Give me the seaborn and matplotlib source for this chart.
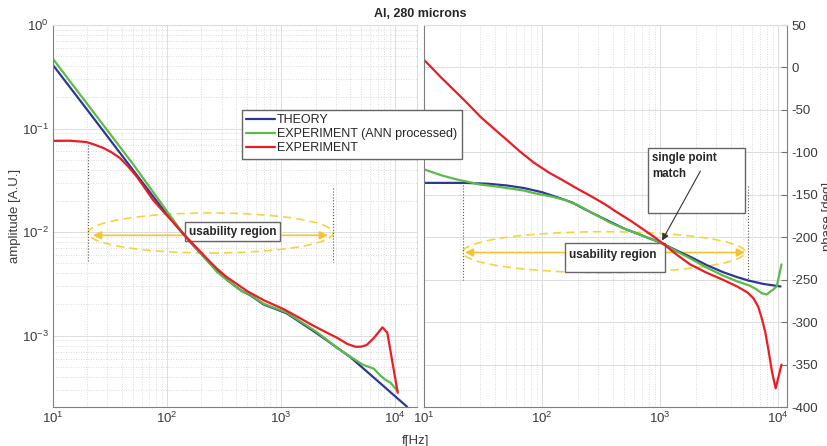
import numpy as np
import matplotlib
matplotlib.use("Agg")
import matplotlib.pyplot as plt
import seaborn as sns
from matplotlib.patches import Ellipse, Rectangle
from matplotlib.lines import Line2D
from matplotlib.ticker import LogLocator, NullFormatter, MultipleLocator

# Amplitude curves (left panel), frequency in Hz
theory_amp_f = [10, 20, 50, 100, 138, 170, 200, 240, 275, 330, 380, 450, 537, 700, 1115,
                2055, 4030, 7940, 10000, 12700]
theory_amp = [0.41, 0.151, 0.040, 0.0147, 0.0096, 0.0074, 0.0061, 0.0049, 0.0042, 0.0035,
              0.0031, 0.0027, 0.00245, 0.0020, 0.00164, 0.00105, 0.00062, 0.000323,
              0.000258, 0.000205]

ann_amp_f = [10, 20, 50, 100, 138, 170, 200, 240, 275, 330, 380, 450, 537, 700, 1115, 2055,
             3100, 4070, 5250, 6460, 7400, 8300, 9100, 10500]
ann_amp = [0.47, 0.172, 0.0457, 0.0158, 0.0097, 0.0075, 0.0061, 0.0049, 0.0041, 0.0035,
           0.0031, 0.0027, 0.00248, 0.00203, 0.00167, 0.00108, 0.00076, 0.00062, 0.00052,
           0.00048, 0.00041, 0.00037, 0.00035, 0.00029]

exp_amp_f = [10, 14, 19.6, 23, 27.5, 32.5, 38.5, 45.5, 54, 64, 75, 88, 100, 112, 138, 170,
             200, 240, 275, 330, 400, 500, 700, 1050, 1500, 1900, 2500, 3100, 3800, 4470,
             5000, 5600, 6500, 7700, 8500, 10500]
exp_amp = [0.076, 0.0762, 0.0741, 0.0700, 0.0650, 0.0590, 0.0520, 0.0430, 0.0345, 0.0265,
           0.0205, 0.0168, 0.0144, 0.0126, 0.0097, 0.0076, 0.0063, 0.0051, 0.0044, 0.0037,
           0.0032, 0.0027, 0.0022, 0.0018, 0.00145, 0.00125, 0.00107, 0.00095, 0.00083,
           0.00078, 0.00078, 0.00081, 0.00095, 0.0012, 0.00107, 0.00028]

# Phase curves (right panel), degrees
theory_ph_f = [10, 22, 35, 50, 70, 100, 135, 180, 230, 300, 380, 500, 650, 800, 1000, 1400,
               1800, 2500, 3400, 4500, 5600, 7500, 10500]
theory_ph = [-136, -136, -137, -139, -142, -147, -153, -159, -167, -175, -182, -190, -196,
             -201, -206, -216, -223, -233, -241, -247, -251, -255, -258]

ann_ph_f = [10, 14, 19, 25, 30, 40, 50, 70, 85, 120, 155, 200, 263, 380, 500, 650, 800, 1000,
            1400, 1800, 2500, 3400, 4500, 5750, 6500, 7300, 8020, 8600, 9120, 9770, 10700]
ann_ph = [-120, -127, -132, -135.5, -138, -140, -142, -145, -148, -152, -156, -162, -171,
          -183, -190, -196, -201, -206, -217, -225, -236, -245, -252, -257, -261, -266,
          -267.5, -264, -261.6, -257.7, -232]

exp_ph_f = [10, 14, 19, 24, 30, 39, 50, 65, 85, 115, 155, 200, 263, 340, 437, 570, 724, 900,
            1070, 1400, 1800, 2500, 3400, 4500, 5500, 6200, 6800, 7300, 7800, 8300, 8900,
            9550, 10700]
exp_ph = [9, -12, -30, -44, -58, -72, -85, -99, -112, -124, -134, -143, -152, -161, -171,
          -181, -191, -200, -208, -221, -232, -242, -250, -258, -265, -272, -282, -296,
          -312, -333, -359, -378, -350]

labels = ["THEORY", "EXPERIMENT (ANN processed)", "EXPERIMENT"]
colors = ["#2d3796", "#5bbb45", "#ec1c24"]

sns.set_style("whitegrid")
plt.rcParams["font.family"] = ["Liberation Sans", "DejaVu Sans"]
plt.rcParams["mathtext.fontset"] = "custom"
plt.rcParams["mathtext.rm"] = "Liberation Sans"
plt.rcParams["mathtext.it"] = "Liberation Sans:italic"
plt.rcParams["mathtext.bf"] = "Liberation Sans:bold"
plt.rcParams["axes.unicode_minus"] = False

W, H = 828, 446


def px_rect(x0, y0, x1, y1):
    return [x0 / W, 1 - y1 / H, (x1 - x0) / W, (y1 - y0) / H]


fig = plt.figure(figsize=(W / 100, H / 100), dpi=100)
ax1 = fig.add_axes(px_rect(53, 25, 417, 407))
ax2 = fig.add_axes(px_rect(424, 25, 787, 407))

amp_sets = [(theory_amp_f, theory_amp), (ann_amp_f, ann_amp), (exp_amp_f, exp_amp)]
ph_sets = [(theory_ph_f, theory_ph), (ann_ph_f, ann_ph), (exp_ph_f, exp_ph)]
for (f, v), c in zip(amp_sets, colors):
    sns.lineplot(x=f, y=v, ax=ax1, color=c, lw=1.6, legend=False)
for (f, v), c in zip(ph_sets, colors):
    sns.lineplot(x=f, y=v, ax=ax2, color=c, lw=1.6, legend=False)

# axes setup
ax1.set_xscale("log")
ax1.set_yscale("log")
ax1.set_xlim(10, 10 ** 4.19)
ax1.set_ylim(10 ** -3.69, 1)
ax1.yaxis.set_major_locator(LogLocator(base=10, numticks=10))
ax1.yaxis.set_minor_locator(LogLocator(base=10, subs=np.arange(2, 10), numticks=20))
ax1.yaxis.set_minor_formatter(NullFormatter())

ax2.set_xscale("log")
ax2.set_xlim(10, 10 ** 4.076)
ax2.set_ylim(-400, 50)
ax2.yaxis.set_major_locator(MultipleLocator(50))
ax2.yaxis.tick_right()
ax2.yaxis.set_label_position("right")

for ax in (ax1, ax2):
    ax.xaxis.set_major_locator(LogLocator(base=10, numticks=10))
    ax.xaxis.set_minor_locator(LogLocator(base=10, subs=np.arange(2, 10), numticks=20))
    ax.xaxis.set_minor_formatter(NullFormatter())
    ax.set_xlabel("")
    ax.tick_params(which="both", direction="in", color="#707070", labelcolor="#3a3a3a",
                   labelsize=9.5)
    ax.tick_params(which="major", length=4, pad=3)
    ax.tick_params(which="minor", length=2)
    ax.grid(True, which="major", color="#dcdcdc", lw=0.7, ls="-")
    for s in ax.spines.values():
        s.set_color("#7f7f7f")
        s.set_linewidth(0.8)
ax1.grid(True, which="minor", color="#cfcfcf", lw=0.6, ls=(0, (1, 2)))
ax2.grid(True, which="minor", axis="x", color="#cfcfcf", lw=0.6, ls=(0, (1, 2)))
ax1.spines["top"].set_color("#dcdcdc")
ax1.spines["right"].set_color("#dcdcdc")
ax2.spines["top"].set_color("#dcdcdc")

ax1.set_ylabel("amplitude [A.U.]", fontsize=9.5, color="#3a3a3a")
ax1.yaxis.set_label_coords(-0.088, 0.5)
ax2.set_ylabel("phase [deg]", fontsize=9.5, color="#3a3a3a")
ax2.yaxis.set_label_coords(1.096, 0.5)

fig.text(416 / W, 1 - 441 / H, "f[Hz]", ha="center", va="center", fontsize=9.5, color="#3a3a3a")
fig.text(420 / W, 1 - 14 / H, "Al, 280 microns", ha="center", va="center", fontsize=9,
         fontweight="bold", color="#262626")

# annotations
yellow = "#f7d23e"
arrow_yellow = "#f4c430"


def region_ellipse(ax, x_lo, x_hi, y_lo, y_hi):
    inv = ax.transAxes.inverted()
    p0 = inv.transform(ax.transData.transform((x_lo, y_lo)))
    p1 = inv.transform(ax.transData.transform((x_hi, y_hi)))
    e = Ellipse(((p0[0] + p1[0]) / 2, (p0[1] + p1[1]) / 2), abs(p1[0] - p0[0]),
                abs(p1[1] - p0[1]), transform=ax.transAxes, fill=False, ec=yellow,
                ls=(0, (5, 3)), lw=1.2, zorder=1.5)
    ax.add_patch(e)


region_ellipse(ax1, 20.3, 2860, 0.00627, 0.0153)
region_ellipse(ax2, 21.3, 5250, -241.7, -193.5)

for ax, x, y0, y1 in [(ax1, 20.3, 0.07, 0.0051), (ax1, 2860, 0.0266, 0.0051),
                      (ax2, 21.3, -135, -250), (ax2, 5570, -140, -252)]:
    ax.plot([x, x], [y0, y1], ls=":", color="#555555", lw=0.8, zorder=1.5)

ax1.annotate("", xy=(2570, 0.0093), xytext=(22.4, 0.0093), zorder=1.4,
             arrowprops=dict(arrowstyle="<|-|>", color=arrow_yellow, lw=1.2,
                             mutation_scale=12, shrinkA=0, shrinkB=0))
ax2.annotate("", xy=(5250, -218), xytext=(22.2, -218), zorder=1.4,
             arrowprops=dict(arrowstyle="<|-|>", color=arrow_yellow, lw=1.2,
                             mutation_scale=12, shrinkA=0, shrinkB=0))

ax1.text(373, 0.0101, "usability region", ha="center", va="center", fontsize=8.5,
         fontweight="bold", color="#262626", zorder=1.6,
         bbox=dict(boxstyle="square,pad=0.3", fc="white", ec="#666666", lw=1))

ax2.add_patch(Rectangle((157, -240.5), 1100 - 157, 34.1, fc="white", ec="#666666", lw=1,
                        zorder=1.6))
ax2.text(169, -221, "usability region", ha="left", va="center", fontsize=8.5,
         fontweight="bold", color="#262626", zorder=1.7)

ax2.add_patch(Rectangle((791, -171), 5250 - 791, 76.4, fc="white", ec="#666666", lw=1,
                        zorder=1.6))
ax2.text(855, -100, "single point\nmatch", ha="left", va="top", fontsize=8.3,
         fontweight="bold", color="#262626", linespacing=1.45, zorder=1.7)
ax2.annotate("", xy=(1040, -204), xytext=(2200, -122), zorder=5,
             arrowprops=dict(arrowstyle="-|>", color="#333333", lw=0.8,
                             mutation_scale=10, shrinkA=0, shrinkB=0))

handles = [Line2D([], [], color=c, lw=1.6) for c in colors]
leg = fig.legend(handles, labels, loc="upper left", bbox_to_anchor=(242 / W, 1 - 110 / H),
                 fontsize=9, frameon=True, fancybox=False, edgecolor="#666666",
                 framealpha=1, handlelength=2.3, handletextpad=0.15, labelspacing=0.15,
                 borderpad=0.35, borderaxespad=0)
leg.get_frame().set_linewidth(1.0)
for t in leg.get_texts():
    t.set_color("#262626")

fig.savefig("out.png", dpi=100)
